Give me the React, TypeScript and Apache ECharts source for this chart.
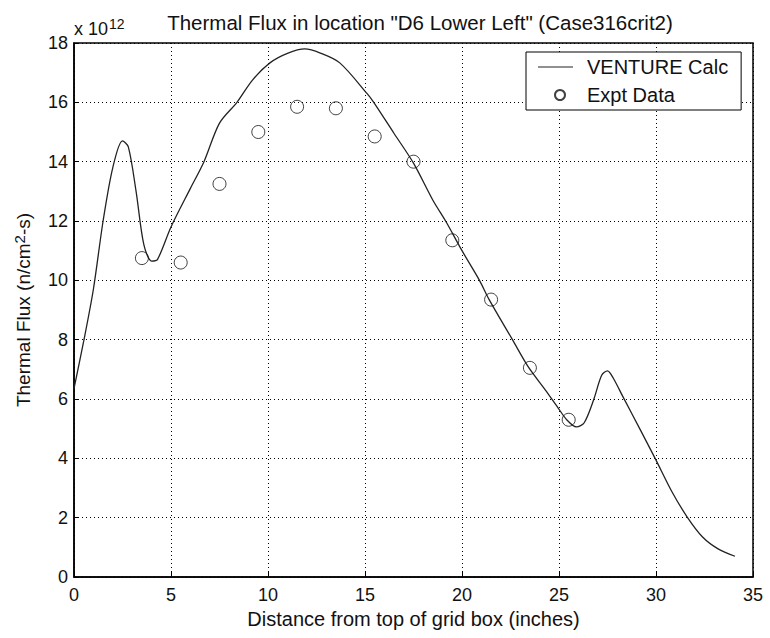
import React, { useEffect, useRef } from "react";
import * as echarts from "echarts";

const calcX = [0, 0.5, 1.0, 1.5, 2.0, 2.5, 2.8, 3.2, 3.6, 4.0, 4.3, 5.0, 6.0, 6.7, 7.5, 8.4, 9.2, 10.1, 11.0, 11.9, 12.7, 13.7, 15.1, 15.45, 16.5, 17.5, 18.5, 19.2, 20.0, 20.9, 21.4, 22.6, 23.4, 24.3, 24.9, 25.4, 25.9, 26.3, 26.8, 27.2, 27.5, 27.8, 28.3, 29.2, 30.0, 30.8, 31.6, 32.4, 33.2, 34.07];
const calcY = [6.35, 7.95, 9.7, 12.0, 13.8, 14.7, 14.5, 13.0, 11.2, 10.65, 10.7, 11.8, 13.1, 14.0, 15.3, 16.0, 16.75, 17.33, 17.65, 17.8, 17.66, 17.33, 16.3, 16.0, 14.95, 13.95, 12.7, 11.95, 11.0, 10.0, 9.35, 8.0, 7.1, 6.3, 5.75, 5.3, 5.06, 5.2, 6.0, 6.8, 6.95, 6.7, 6.07, 4.95, 3.94, 2.9, 2.03, 1.35, 0.95, 0.7];

const exptX = [3.5, 5.5, 7.5, 9.5, 11.5, 13.5, 15.5, 17.5, 19.5, 21.5, 23.5, 25.5];
const exptY = [10.75, 10.6, 13.25, 15.0, 15.85, 15.8, 14.85, 14.0, 11.35, 9.35, 7.05, 5.3];

const FONT = "Liberation Sans, Arial, sans-serif";

export default function App() {
  const ref = useRef<HTMLDivElement>(null);
  useEffect(() => {
    if (!ref.current) return;
    const chart = echarts.init(ref.current, null, { renderer: "svg" });
    chart.setOption({
      animation: false,
      backgroundColor: "#fff",
      textStyle: { fontFamily: FONT, color: "#000" },
      title: [
        {
          text: 'Thermal Flux in location "D6 Lower Left" (Case316crit2)',
          left: 415,
          textAlign: "center",
          top: 7,
          textStyle: { fontFamily: FONT, fontSize: 20.5, fontWeight: "normal", color: "#111" },
        },
        {
          text: "x 10{sup|12}",
          left: 69,
          top: 12,
          textStyle: {
            fontFamily: FONT,
            fontSize: 18,
            fontWeight: "normal",
            color: "#111",
            rich: { sup: { fontFamily: FONT, fontSize: 14, verticalAlign: "top", padding: [0, 0, 9, 1], color: "#111" } },
          },
        },
      ],
      grid: {
        left: 74,
        right: 17,
        top: 43,
        bottom: 61,
        show: true,
        borderColor: "#000",
        borderWidth: 1.5,
        backgroundColor: "#fff",
      },
      legend: {
        orient: "vertical",
        left: 526,
        top: 52,
        borderColor: "#000",
        borderWidth: 1,
        backgroundColor: "#fff",
        padding: [4, 13, 4, 12],
        itemWidth: 44,
        itemHeight: 10,
        itemGap: 6,
        textStyle: { fontFamily: FONT, fontSize: 20, lineHeight: 22, color: "#111" },
        data: [
          { name: "VENTURE Calc", icon: "path://M0,0 M44,10 M0,4.5 L35,4.5 L35,5.5 L0,5.5 Z" },
          { name: "Expt Data", icon: "circle" },
        ],
      },
      xAxis: {
        type: "value",
        min: 0,
        max: 35,
        interval: 5,
        name: "Distance from top of grid box (inches)",
        nameLocation: "middle",
        nameGap: 32,
        nameTextStyle: { fontFamily: FONT, fontSize: 20, color: "#111" },
        axisLine: { show: true, lineStyle: { color: "#000", width: 1.5 } },
        axisTick: { show: true, inside: true, length: 5, lineStyle: { color: "#000" } },
        axisLabel: { fontFamily: FONT, fontSize: 18, color: "#111", margin: 9 },
        splitLine: { show: true, lineStyle: { color: "#000", type: [1, 3], width: 1 } },
      },
      yAxis: {
        type: "value",
        min: 0,
        max: 18,
        interval: 2,
        name: "Thermal Flux (n/cm{sup|2}-s)",
        nameLocation: "middle",
        nameGap: 39,
        nameTextStyle: {
          fontFamily: FONT,
          fontSize: 19,
          color: "#111",
          rich: { sup: { fontFamily: FONT, fontSize: 15, verticalAlign: "top", padding: [0, 0, 8, 0], color: "#111" } },
        },
        axisLine: { show: true, lineStyle: { color: "#000", width: 1.5 } },
        axisTick: { show: true, inside: true, length: 5, lineStyle: { color: "#000" } },
        axisLabel: { fontFamily: FONT, fontSize: 18, color: "#111", margin: 6 },
        splitLine: { show: true, lineStyle: { color: "#000", type: [1, 3], width: 1 } },
      },
      series: [
        {
          name: "VENTURE Calc",
          type: "line",
          smooth: 0.3,
          symbol: "none",
          lineStyle: { color: "#222", width: 1.3 },
          itemStyle: { color: "#222" },
          data: calcX.map((x, i) => [x, calcY[i]]),
          z: 3,
        },
        {
          name: "Expt Data",
          type: "scatter",
          symbol: "circle",
          symbolSize: 13,
          itemStyle: { color: "rgba(255,255,255,0)", borderColor: "#111", borderWidth: 1 },
          data: exptX.map((x, i) => [x, exptY[i]]),
          z: 4,
        },
      ],
    });
    return () => chart.dispose();
  }, []);
  return <div ref={ref} style={{ width: 770, height: 638, position: "absolute", left: 0, top: 0 }} />;
}
